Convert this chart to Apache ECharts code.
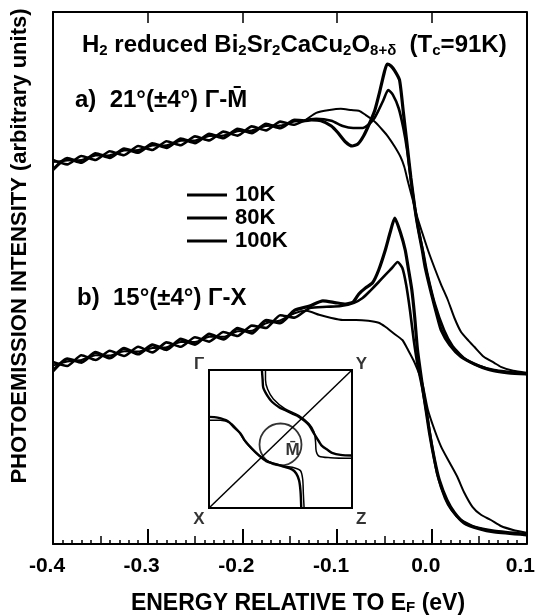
<!DOCTYPE html>
<html>
<head>
<meta charset="utf-8">
<script src="https://cdn.jsdelivr.net/npm/echarts/dist/echarts.min.js"></script>
<style>
  html, body { margin: 0; padding: 0; background: #fff; }
  #main { width: 538px; height: 616px; }
</style>
</head>
<body>
<div id="main"></div>
<script>
// energy grid of the noisy left part (eV), shared by all curves
var braidEnergy = [-0.400, -0.385, -0.370, -0.355, -0.340, -0.325, -0.310, -0.295, -0.280,
  -0.265, -0.250, -0.235, -0.220, -0.205, -0.190, -0.175, -0.160, -0.145];

// a) 21deg G-M, left part
var a10Braid = [93.6, 96.4, 95.4, 97.6, 96.6, 98.8, 97.9, 100.1, 99.1, 101.3, 100.3, 102.5, 101.5, 103.7, 102.8, 105.0, 104.0, 106.0];
var a80Braid = [96.0, 94.9, 97.0, 96.0, 98.2, 97.2, 99.5, 98.5, 100.7, 99.7, 101.9, 100.9, 103.1, 102.1, 104.4, 103.4, 105.6, 104.8];
var a100Braid = [95.5, 95.9, 96.0, 97.1, 97.2, 98.4, 98.5, 99.6, 99.7, 100.8, 100.9, 102.0, 102.1, 103.2, 103.4, 104.5, 104.6, 105.6];

// a) near the Fermi edge
var a10Energy = [-0.135, -0.127, -0.117, -0.106, -0.099, -0.091, -0.084, -0.078, -0.072, -0.066, -0.060, -0.055, -0.050, -0.047, -0.043, -0.039, -0.034, -0.030, -0.026, -0.022, -0.018, -0.015, -0.010, -0.007, 0.000, 0.006, 0.010, 0.019, 0.031, 0.045, 0.062, 0.081, 0.100];
var a10Edge = [105.8, 106, 105.8, 104.5, 102.8, 100.5, 99.5, 100, 102, 105, 108.5, 113, 118, 120, 119.5, 118.3, 116, 108, 99.8, 91.5, 84.3, 79.8, 73.5, 69.3, 62.3, 56.8, 53.5, 49.8, 46.8, 45, 43.5, 42.8, 42.5];
var a80Energy = [-0.135, -0.122, -0.106, -0.094, -0.083, -0.073, -0.067, -0.061, -0.056, -0.051, -0.046, -0.041, -0.035, -0.030, -0.026, -0.022, -0.018, -0.014, -0.009, -0.005, 0.003, 0.013, 0.022, 0.034, 0.050, 0.066, 0.100];
var a80Edge = [105.8, 106.3, 105.8, 104.5, 104, 104, 104.8, 106.3, 108.5, 111, 113.5, 112.3, 109, 104, 98.5, 91, 84.3, 78.5, 73, 68, 60.3, 53.5, 49.5, 46.5, 44.5, 43.5, 42.5];
var a100Energy = [-0.135, -0.122, -0.108, -0.096, -0.085, -0.077, -0.070, -0.064, -0.059, -0.052, -0.046, -0.039, -0.033, -0.029, -0.025, -0.020, -0.015, -0.010, -0.004, 0.003, 0.010, 0.017, 0.024, 0.031, 0.039, 0.045, 0.055, 0.066, 0.073, 0.086, 0.100];
var a100Edge = [105.8, 107.8, 108.5, 108.8, 108.5, 108.3, 107.3, 106.3, 105.3, 103.5, 101.8, 99.3, 96.8, 94.3, 90.5, 86, 81.5, 77.8, 73.5, 69, 64.8, 61, 56.5, 53, 50.8, 49.3, 46.8, 45.3, 44.3, 43.3, 42.8];

// b) 15deg G-X, left part
var b10Braid = [43.3, 46.3, 45.4, 47.9, 46.5, 48.9, 47.5, 49.8, 48.6, 51.2, 49.9, 52.5, 51.2, 53.9, 52.7, 55.9, 55.3, 58.4];
var b80Braid = [45.5, 44.5, 47.2, 46.0, 48.3, 47.0, 49.3, 47.9, 50.4, 49.3, 51.7, 50.6, 53.0, 52.0, 54.6, 54.0, 57.2, 56.6];
var b100Braid = [44.6, 45.6, 46.0, 47.2, 47.1, 48.2, 48.1, 49.0, 49.2, 50.5, 50.5, 51.8, 51.8, 53.2, 53.3, 55.2, 55.9, 57.7];

// b) near the Fermi edge
var b10Energy = [-0.129, -0.115, -0.101, -0.091, -0.083, -0.077, -0.070, -0.0625, -0.056, -0.049, -0.044, -0.039, -0.033, -0.028, -0.025, -0.021, -0.018, -0.015, -0.010, -0.006, -0.002, 0.003, 0.008, 0.016, 0.024, 0.034, 0.050, 0.066, 0.100];
var b10Edge = [59.5, 60.8, 60.3, 60, 60.5, 62.5, 64, 65.3, 68.5, 73.5, 77.8, 81.5, 77.8, 73.5, 69.3, 63.5, 56.8, 48.5, 39.8, 33.5, 27.3, 21, 16, 11, 7.8, 5.3, 3.8, 3, 2.3];
var b80Energy = [-0.129, -0.111, -0.096, -0.082, -0.073, -0.065, -0.056, -0.049, -0.042, -0.036, -0.031, -0.027, -0.023, -0.019, -0.015, -0.010, -0.005, 0.000, 0.006, 0.014, 0.021, 0.031, 0.045, 0.066, 0.100];
var b80Edge = [59, 59.3, 59.5, 60.3, 61.5, 63.3, 65.5, 67.3, 69, 70.5, 69, 64.8, 58.5, 51, 44.8, 39, 32.3, 24.8, 17.3, 11.5, 8.5, 6, 4.3, 3.3, 2.5];
var b100Energy = [-0.132, -0.119, -0.106, -0.094, -0.080, -0.067, -0.056, -0.049, -0.041, -0.031, -0.025, -0.018, -0.010, -0.004, 0.003, 0.010, 0.019, 0.027, 0.034, 0.043, 0.052, 0.0625, 0.073, 0.086, 0.100];
var b100Edge = [58.3, 57.3, 56.5, 56, 56, 55.8, 55.3, 54.3, 52.8, 51, 48.5, 45.3, 40.3, 33.5, 28.5, 24.3, 20.3, 16.8, 13, 9.3, 7.3, 6, 4.5, 3.5, 2.8];

// inset: Brillouin zone sketch (unit square, X at origin, Y at top right)
var bzDiagonal = [[0, 0], [1, 1]];
var fsUpperOuter = [[0.37, 1.0], [0.375, 0.93], [0.38, 0.87], [0.41, 0.81], [0.44, 0.77], [0.49, 0.73], [0.53, 0.71], [0.58, 0.685], [0.63, 0.66], [0.67, 0.63], [0.70, 0.60], [0.72, 0.565], [0.74, 0.53], [0.77, 0.48], [0.79, 0.45], [0.83, 0.42], [0.86, 0.40], [0.92, 0.385], [1.0, 0.38]];
var fsUpperInner = [[0.395, 1.0], [0.395, 0.93], [0.41, 0.86], [0.45, 0.79], [0.53, 0.72], [0.63, 0.67], [0.70, 0.61], [0.735, 0.55], [0.745, 0.48], [0.75, 0.41], [0.77, 0.375], [0.85, 0.365], [1.0, 0.36]];
var fsLowerOuter = [[0, 0.66], [0.06, 0.655], [0.13, 0.63], [0.18, 0.58], [0.22, 0.54], [0.25, 0.49], [0.30, 0.43], [0.35, 0.38], [0.40, 0.34], [0.46, 0.32], [0.52, 0.30], [0.58, 0.28], [0.61, 0.25], [0.63, 0.20], [0.64, 0.12], [0.645, 0]];
var fsLowerInner = [[0, 0.635], [0.08, 0.635], [0.15, 0.615], [0.20, 0.565], [0.26, 0.47], [0.33, 0.40], [0.42, 0.335], [0.52, 0.305], [0.60, 0.29], [0.64, 0.27], [0.655, 0.21], [0.66, 0.10], [0.665, 0]];
var bzCenter = [[0.50, 0.46]];
var bzLabels = [
  { name: 'Γ', value: [-0.07, 1.04] },
  { name: 'Y', value: [1.065, 1.04] },
  { name: 'X', value: [-0.07, -0.08] },
  { name: 'Z', value: [1.065, -0.08] },
  { name: 'M\u0304', value: [0.585, 0.42] }
];

function zip(e, y) {
  return e.map(function (v, i) { return [v, y[i]]; });
}

function curve(name, energy, inten, width) {
  return {
    name: name,
    type: 'line',
    xAxisIndex: 0,
    yAxisIndex: 0,
    data: zip(energy, inten),
    symbol: 'none',
    smooth: 0.2,
    lineStyle: { color: '#000', width: width },
    itemStyle: { color: '#000' },
    z: 3
  };
}

function bzLine(pts, width) {
  return {
    type: 'line',
    xAxisIndex: 3,
    yAxisIndex: 2,
    data: pts,
    symbol: 'none',
    smooth: 0.3,
    lineStyle: { color: '#000', width: width },
    z: 4
  };
}

var font = 'Liberation Sans';
var chart = echarts.init(document.getElementById('main'));

var option = {
  animation: false,
  backgroundColor: '#fff',
  grid: [
    { left: 53, right: 5, top: 12, bottom: 72 },
    { left: 209, top: 370, width: 143, height: 138, show: true,
      borderColor: '#000', borderWidth: 2, backgroundColor: 'transparent' }
  ],
  xAxis: [
    {
      type: 'value', min: -0.4, max: 0.1, interval: 0.1, position: 'bottom',
      axisLine: { onZero: false, lineStyle: { color: '#000', width: 2 } },
      axisTick: { inside: true, length: 15, lineStyle: { color: '#000', width: 2 } },
      minorTick: { show: true, splitNumber: 10, length: 4, lineStyle: { color: '#000', width: 1.5 } },
      splitLine: { show: false },
      axisLabel: {
        margin: 12, color: '#000', fontSize: 21, fontWeight: 'bold', fontFamily: font,
        padding: [0, 12, 0, 0],
        formatter: function (v) { return v.toFixed(1); }
      }
    },
    {
      type: 'value', min: -0.4, max: 0.1, interval: 0.05, position: 'bottom',
      axisLine: { show: false, onZero: false },
      axisTick: { inside: true, length: 8, lineStyle: { color: '#000', width: 1.5 } },
      axisLabel: { show: false }, splitLine: { show: false }
    },
    {
      type: 'value', min: -0.4, max: 0.1, interval: 0.1, position: 'top',
      axisLine: { onZero: false, lineStyle: { color: '#000', width: 2 } },
      axisTick: { inside: true, length: 11, lineStyle: { color: '#000', width: 1.5 } },
      axisLabel: { show: false }, splitLine: { show: false }
    },
    { gridIndex: 1, type: 'value', min: 0, max: 1, show: false }
  ],
  yAxis: [
    {
      type: 'value', min: 0, max: 133, position: 'left',
      axisLine: { show: true, onZero: false, lineStyle: { color: '#000', width: 2 } },
      axisTick: { show: false }, axisLabel: { show: false }, splitLine: { show: false }
    },
    {
      type: 'value', min: 0, max: 133, position: 'right',
      axisLine: { show: true, onZero: false, lineStyle: { color: '#000', width: 2 } },
      axisTick: { show: false }, axisLabel: { show: false }, splitLine: { show: false }
    },
    { gridIndex: 1, type: 'value', min: 0, max: 1, show: false }
  ],
  legend: {
    data: ['10K', '80K', '100K'],
    orient: 'vertical',
    left: 187,
    top: 184,
    icon: 'rect',
    itemWidth: 40,
    itemHeight: 3,
    itemGap: 1,
    padding: 0,
    selectedMode: false,
    itemStyle: { color: '#000' },
    textStyle: { color: '#000', fontSize: 22, fontWeight: 'bold', fontFamily: font, lineHeight: 22, padding: [0, 0, 0, 3] }
  },
  graphic: [
    {
      type: 'text', left: 82, top: 33,
      style: {
        text: 'H{s|2} reduced Bi{s|2}Sr{s|2}CaCu{s|2}O{s|8+δ}  (T{s|c}=91K)',
        fill: '#000', font: 'bold 24px "Liberation Sans"',
        rich: {
          s: { fontSize: 15, fontWeight: 'bold', fontFamily: font, padding: [11, 0, 0, 0], verticalAlign: 'bottom' }
        }
      }
    },
    {
      type: 'text', left: 75, top: 88,
      style: { text: 'a)  21°(±4°) Γ-M\u0304', fill: '#000', font: 'bold 24px "Liberation Sans"' }
    },
    {
      type: 'text', left: 77, top: 286,
      style: { text: 'b)  15°(±4°) Γ-X', fill: '#000', font: 'bold 24px "Liberation Sans"' }
    },
    {
      type: 'text', x: 298, y: 604,
      style: {
        text: 'ENERGY RELATIVE TO E{s|F} (eV)',
        fill: '#000', font: 'bold 23px "Liberation Sans"',
        align: 'center', verticalAlign: 'middle',
        rich: {
          s: { fontSize: 15, fontWeight: 'bold', fontFamily: font, padding: [8, 0, 0, 0], verticalAlign: 'bottom' }
        }
      }
    },
    {
      type: 'text', x: 20, y: 246, rotation: Math.PI / 2,
      style: {
        text: 'PHOTOEMISSION INTENSITY (arbitrary units)',
        fill: '#000', font: 'bold 22px "Liberation Sans"',
        align: 'center', verticalAlign: 'middle'
      }
    }
  ],
  series: [
    curve('10K', braidEnergy.concat(a10Energy), a10Braid.concat(a10Edge), 3.2),
    curve('80K', braidEnergy.concat(a80Energy), a80Braid.concat(a80Edge), 2.6),
    curve('100K', braidEnergy.concat(a100Energy), a100Braid.concat(a100Edge), 2.0),
    curve('10K', braidEnergy.concat(b10Energy), b10Braid.concat(b10Edge), 3.2),
    curve('80K', braidEnergy.concat(b80Energy), b80Braid.concat(b80Edge), 2.6),
    curve('100K', braidEnergy.concat(b100Energy), b100Braid.concat(b100Edge), 2.0),
    bzLine(bzDiagonal, 1.5),
    bzLine(fsUpperOuter, 2.4),
    bzLine(fsUpperInner, 1.5),
    bzLine(fsLowerOuter, 2.4),
    bzLine(fsLowerInner, 1.5),
    {
      type: 'scatter', xAxisIndex: 3, yAxisIndex: 2, data: bzCenter,
      symbol: 'circle', symbolSize: 42,
      itemStyle: { color: 'transparent', borderColor: '#000', borderWidth: 1.8 },
      z: 4
    },
    {
      type: 'scatter', xAxisIndex: 3, yAxisIndex: 2, data: bzLabels, clip: false,
      symbolSize: 0,
      label: {
        show: true, position: 'inside', formatter: '{b}',
        color: '#000', fontSize: 17, fontWeight: 'bold', fontFamily: font
      },
      z: 5
    }
  ]
};

chart.setOption(option);
</script>
</body>
</html>
